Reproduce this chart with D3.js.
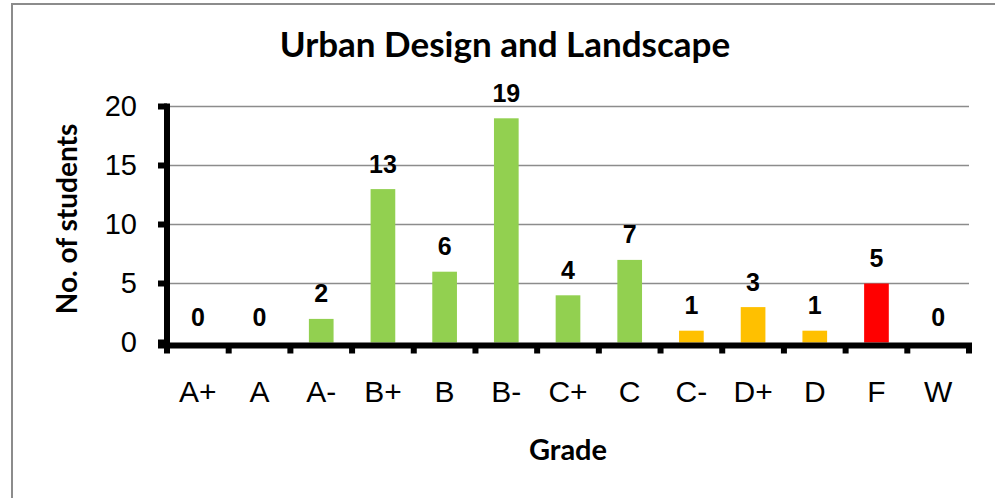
<!DOCTYPE html>
<html>
<head>
<meta charset="utf-8">
<script src="https://cdn.jsdelivr.net/npm/d3@7"></script>
<style>
  body { margin: 0; background: #fff; }
  svg { display: block; }
</style>
</head>
<body>
<div class="chart"></div>
<script>
// chart data
var grades = ["A+", "A", "A-", "B+", "B", "B-", "C+", "C", "C-", "D+", "D", "F", "W"];
var counts = [0, 0, 2, 13, 6, 19, 4, 7, 1, 3, 1, 5, 0];
var yTicks = [0, 5, 10, 15, 20];
var warnGrades = ["C-", "D+", "D"];
var failGrades = ["F"];

var svgWidth = 995;
var svgHeight = 498;

var svg = d3.select(".chart")
  .append("svg")
  .attr("width", svgWidth)
  .attr("height", svgHeight);

// outer chart border (only left/top are inside the picture)
svg.append("rect")
  .attr("x", 12)
  .attr("y", 4)
  .attr("width", 1000)
  .attr("height", 520)
  .attr("fill", "none")
  .attr("stroke", "#8c8c8c")
  .attr("stroke-width", 2);

var plotLeft = 167, plotRight = 969, plotTop = 106.5, plotBottom = 342.5;

var xScale = d3.scaleBand().domain(grades).range([plotLeft, plotRight]).paddingInner(0.6).paddingOuter(0.3);
var xBand = d3.scaleBand().domain(grades).range([plotLeft, plotRight]);
var yScale = d3.scaleLinear().domain([0, 20]).range([plotBottom, plotTop]);

function colorFor(g) {
  if (failGrades.indexOf(g) >= 0) return "#ff0000";
  if (warnGrades.indexOf(g) >= 0) return "#ffc000";
  return "#92d050";
}

// gridlines
svg.append("g")
  .selectAll("line")
  .data(yTicks.filter(function(d) { return d > 0; }))
  .enter()
  .append("line")
  .attr("x1", plotLeft)
  .attr("x2", plotRight)
  .attr("y1", function(d) { return yScale(d); })
  .attr("y2", function(d) { return yScale(d); })
  .attr("stroke", "#8c8c8c")
  .attr("stroke-width", 1.5);

// bars
svg.append("g")
  .selectAll("rect")
  .data(grades)
  .enter()
  .append("rect")
  .attr("x", function(d) { return xScale(d); })
  .attr("width", xScale.bandwidth())
  .attr("y", function(d, i) { return yScale(counts[i]); })
  .attr("height", function(d, i) { return yScale(0) - yScale(counts[i]); })
  .attr("fill", function(d) { return colorFor(d); });

// value labels
svg.append("g")
  .selectAll("text")
  .data(grades)
  .enter()
  .append("text")
  .attr("x", function(d) { return xBand(d) + xBand.bandwidth() / 2; })
  .attr("y", function(d, i) { return yScale(counts[i]) - 16.5; })
  .attr("text-anchor", "middle")
  .style("font-family", "'Liberation Sans', Arial, sans-serif")
  .style("font-weight", "bold")
  .style("font-size", "25px")
  .text(function(d, i) { return counts[i]; });

// y axis
var leftAxis = d3.axisLeft(yScale).tickValues(yTicks).tickSize(0).tickPadding(30);
var yAxisG = svg.append("g")
  .attr("transform", "translate(" + plotLeft + ",0)")
  .call(leftAxis);
yAxisG.select(".domain").remove();
yAxisG.selectAll("text")
  .style("font-family", "'Liberation Sans', Arial, sans-serif")
  .style("font-size", "29px")
  .attr("fill", "#000");

svg.append("line")
  .attr("x1", plotLeft)
  .attr("x2", plotLeft)
  .attr("y1", plotTop - 3)
  .attr("y2", plotBottom + 3)
  .attr("stroke", "#000")
  .attr("stroke-width", 6);

svg.append("g")
  .selectAll("rect")
  .data(yTicks)
  .enter()
  .append("rect")
  .attr("x", plotLeft - 9)
  .attr("y", function(d) { return yScale(d) - 3; })
  .attr("width", 9)
  .attr("height", 6)
  .attr("fill", "#000");

// x axis
svg.append("line")
  .attr("x1", plotLeft - 9)
  .attr("x2", plotRight + 3)
  .attr("y1", plotBottom + 3)
  .attr("y2", plotBottom + 3)
  .attr("stroke", "#000")
  .attr("stroke-width", 6);

var xTickPos = grades.map(function(d) { return xBand(d); }).concat([plotRight]);
svg.append("g")
  .selectAll("rect")
  .data(xTickPos)
  .enter()
  .append("rect")
  .attr("x", function(d) { return d - 3; })
  .attr("y", plotBottom + 3)
  .attr("width", 6)
  .attr("height", 8)
  .attr("fill", "#000");

svg.append("g")
  .selectAll("text")
  .data(grades)
  .enter()
  .append("text")
  .attr("x", function(d) { return xBand(d) + xBand.bandwidth() / 2; })
  .attr("y", 402)
  .attr("text-anchor", "middle")
  .style("font-family", "'Liberation Sans', Arial, sans-serif")
  .style("font-size", "30px")
  .text(function(d) { return d; });

// titles
svg.append("text")
  .attr("x", 505)
  .attr("y", 57)
  .attr("text-anchor", "middle")
  .style("font-family", "Lato, 'Open Sans', sans-serif")
  .style("font-weight", "bold")
  .style("font-size", "35px")
  .text("Urban Design and Landscape");

svg.append("text")
  .attr("x", (plotLeft + plotRight) / 2)
  .attr("y", 460)
  .attr("text-anchor", "middle")
  .style("font-family", "Lato, 'Open Sans', sans-serif")
  .style("font-weight", "bold")
  .style("font-size", "29px")
  .text("Grade");

svg.append("text")
  .attr("transform", "translate(77," + 219 + ") rotate(-90)")
  .attr("text-anchor", "middle")
  .style("font-family", "Lato, 'Open Sans', sans-serif")
  .style("font-weight", "bold")
  .style("font-size", "28px")
  .text("No. of students");
</script>
</body>
</html>
